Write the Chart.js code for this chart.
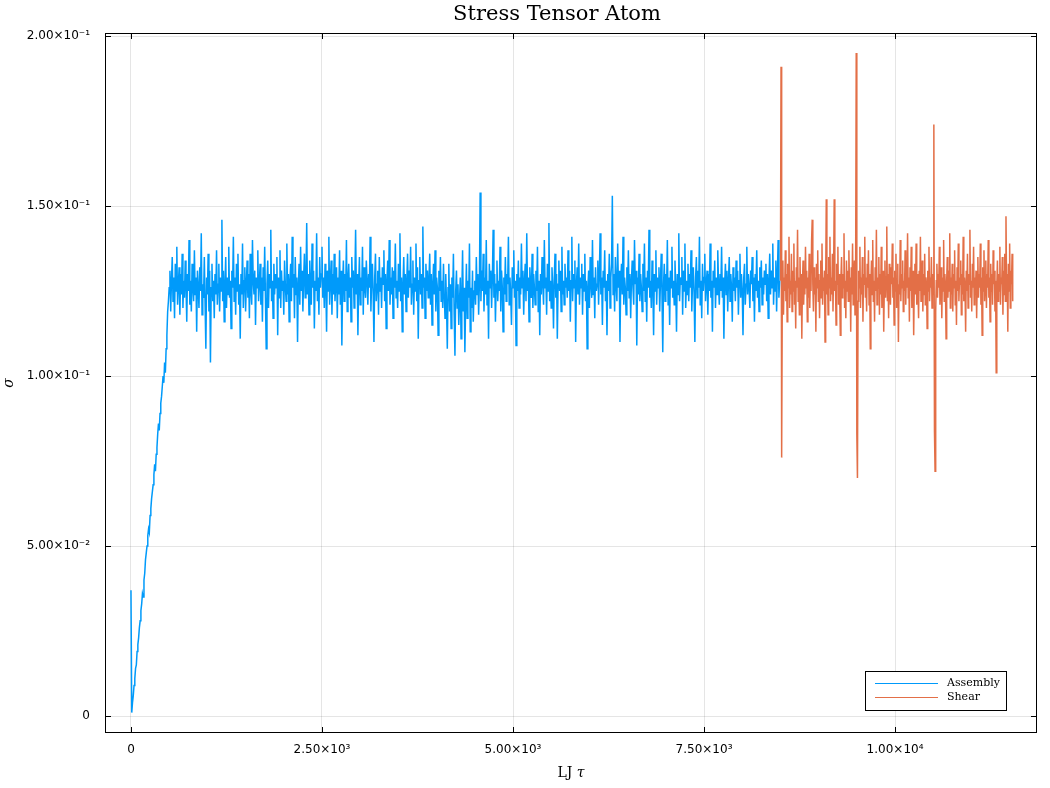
<!DOCTYPE html>
<html>
<head>
<meta charset="utf-8">
<script src="https://cdn.jsdelivr.net/npm/chart.js@4"></script>
<style>
  html, body { margin: 0; padding: 0; background: #fff; }
  #wrap { width: 1050px; height: 788px; }
</style>
</head>
<body>
<div id="wrap"><canvas id="stressChart"></canvas></div>
<script>
// sampled every 10 LJ tau, starting at 0
var assemblyStart = 0;
var assemblyStep = 10;
var assemblySigma = [
  0.037, 0.001, 0.004, 0.006, 0.009, 0.011, 0.014, 0.015, 0.019, 0.021,
  0.023, 0.026, 0.028, 0.031, 0.033, 0.036, 0.035, 0.040, 0.042, 0.046,
  0.048, 0.050, 0.053, 0.055, 0.054, 0.059, 0.061, 0.064, 0.066, 0.068,
  0.071, 0.074, 0.072, 0.077, 0.079, 0.083, 0.086, 0.084, 0.089, 0.092,
  0.094, 0.097, 0.100, 0.098, 0.104, 0.101, 0.108, 0.112, 0.119, 0.122,
  0.126, 0.131, 0.119, 0.128, 0.135, 0.122, 0.129, 0.117, 0.133, 0.125, 0.138, 0.121, 0.127, 0.132, 0.118, 0.130, 0.124, 0.136, 0.120, 0.128,
  0.123, 0.134, 0.127, 0.116, 0.130, 0.125, 0.140, 0.121, 0.128, 0.119, 0.133, 0.126, 0.122, 0.137, 0.124, 0.129, 0.113, 0.131, 0.126, 0.120,
  0.132, 0.125, 0.142, 0.118, 0.127, 0.123, 0.135, 0.121, 0.108, 0.129, 0.124, 0.136, 0.119, 0.131, 0.104, 0.126, 0.133, 0.122, 0.128, 0.117,
  0.130, 0.124, 0.137, 0.121, 0.127, 0.133, 0.119, 0.129, 0.125, 0.146, 0.122, 0.131, 0.116, 0.127, 0.135, 0.120, 0.129, 0.124, 0.138, 0.123,
  0.128, 0.114, 0.131, 0.126, 0.141, 0.122, 0.129, 0.118, 0.133, 0.125, 0.136, 0.121, 0.127, 0.111, 0.130, 0.124, 0.139, 0.120, 0.128, 0.132,
  0.119, 0.127, 0.134, 0.123, 0.130, 0.117, 0.136, 0.125, 0.121, 0.140, 0.128, 0.124, 0.131, 0.115, 0.129, 0.126, 0.137, 0.122, 0.127, 0.133,
  0.121, 0.129, 0.116, 0.132, 0.125, 0.138, 0.123, 0.108, 0.127, 0.134, 0.120, 0.130, 0.126, 0.143, 0.122, 0.128, 0.117, 0.133, 0.124, 0.130,
  0.126, 0.135, 0.112, 0.129, 0.123, 0.137, 0.120, 0.131, 0.125, 0.128, 0.118, 0.134, 0.127, 0.122, 0.139, 0.124, 0.130, 0.116, 0.128, 0.133,
  0.122, 0.141, 0.126, 0.130, 0.117, 0.135, 0.124, 0.129, 0.110, 0.127, 0.133, 0.121, 0.138, 0.125, 0.131, 0.119, 0.129, 0.136, 0.123, 0.128,
  0.145, 0.124, 0.130, 0.118, 0.134, 0.127, 0.121, 0.139, 0.126, 0.131, 0.114, 0.128, 0.125, 0.142, 0.122, 0.129, 0.118, 0.135, 0.126, 0.130,
  0.138, 0.123, 0.129, 0.120, 0.133, 0.127, 0.113, 0.131, 0.125, 0.141, 0.121, 0.128, 0.134, 0.118, 0.130, 0.124, 0.136, 0.122, 0.127, 0.132,
  0.117, 0.129, 0.124, 0.137, 0.121, 0.131, 0.109, 0.127, 0.134, 0.122, 0.130, 0.125, 0.140, 0.119, 0.128, 0.133, 0.123, 0.129, 0.116, 0.135,
  0.126, 0.131, 0.120, 0.128, 0.143, 0.124, 0.130, 0.112, 0.127, 0.135, 0.121, 0.129, 0.125, 0.138, 0.118, 0.132, 0.126, 0.123, 0.134, 0.128,
  0.121, 0.130, 0.126, 0.141, 0.119, 0.128, 0.133, 0.124, 0.110, 0.129, 0.136, 0.122, 0.127, 0.131, 0.118, 0.135, 0.125, 0.129, 0.120, 0.132,
  0.127, 0.137, 0.122, 0.130, 0.114, 0.128, 0.134, 0.125, 0.140, 0.121, 0.129, 0.124, 0.132, 0.117, 0.131, 0.126, 0.139, 0.123, 0.128, 0.120,
  0.133, 0.125, 0.142, 0.122, 0.129, 0.113, 0.127, 0.135, 0.124, 0.130, 0.119, 0.128, 0.136, 0.123, 0.131, 0.126, 0.138, 0.121, 0.127, 0.134,
  0.118, 0.129, 0.125, 0.139, 0.122, 0.132, 0.111, 0.128, 0.135, 0.124, 0.130, 0.120, 0.144, 0.126, 0.129, 0.117, 0.133, 0.125, 0.131, 0.123,
  0.128, 0.136, 0.121, 0.130, 0.115, 0.127, 0.133, 0.124, 0.137, 0.119, 0.129, 0.126, 0.112, 0.131, 0.125, 0.135, 0.122, 0.128, 0.120, 0.133,
  0.124, 0.117, 0.130, 0.121, 0.108, 0.126, 0.133, 0.119, 0.127, 0.114, 0.129, 0.123, 0.136, 0.118, 0.106, 0.125, 0.131, 0.120, 0.127, 0.115,
  0.122, 0.129, 0.111, 0.124, 0.137, 0.119, 0.126, 0.107, 0.121, 0.133, 0.117, 0.128, 0.123, 0.139, 0.113, 0.126, 0.120, 0.131, 0.116, 0.125,
  0.128, 0.121, 0.135, 0.124, 0.130, 0.118, 0.127, 0.154, 0.122, 0.131, 0.125, 0.136, 0.119, 0.129, 0.124, 0.140, 0.121, 0.128, 0.111, 0.133,
  0.126, 0.131, 0.120, 0.129, 0.143, 0.123, 0.130, 0.116, 0.127, 0.134, 0.122, 0.128, 0.125, 0.138, 0.119, 0.131, 0.126, 0.113, 0.129, 0.124,
  0.135, 0.122, 0.130, 0.127, 0.141, 0.121, 0.129, 0.124, 0.115, 0.132, 0.126, 0.137, 0.123, 0.128, 0.109, 0.130, 0.125, 0.134, 0.120, 0.129,
  0.124, 0.139, 0.126, 0.131, 0.118, 0.128, 0.133, 0.122, 0.142, 0.125, 0.129, 0.116, 0.132, 0.127, 0.123, 0.136, 0.120, 0.130, 0.126, 0.121,
  0.131, 0.125, 0.138, 0.119, 0.128, 0.112, 0.130, 0.124, 0.135, 0.127, 0.121, 0.140, 0.126, 0.129, 0.118, 0.133, 0.125, 0.145, 0.122, 0.128,
  0.120, 0.132, 0.126, 0.114, 0.129, 0.136, 0.123, 0.130, 0.111, 0.127, 0.134, 0.125, 0.131, 0.119, 0.138, 0.124, 0.128, 0.121, 0.133, 0.126,
  0.129, 0.123, 0.137, 0.125, 0.131, 0.116, 0.128, 0.141, 0.122, 0.130, 0.126, 0.134, 0.110, 0.127, 0.132, 0.124, 0.139, 0.121, 0.129, 0.126,
  0.133, 0.118, 0.130, 0.125, 0.136, 0.122, 0.128, 0.108, 0.126, 0.131, 0.120, 0.135, 0.127, 0.123, 0.140, 0.124, 0.129, 0.117, 0.132, 0.125,
  0.127, 0.134, 0.121, 0.130, 0.142, 0.124, 0.129, 0.115, 0.131, 0.126, 0.137, 0.122, 0.128, 0.112, 0.130, 0.125, 0.136, 0.120, 0.129, 0.133,
  0.153, 0.124, 0.130, 0.119, 0.135, 0.127, 0.122, 0.139, 0.126, 0.131, 0.110, 0.128, 0.133, 0.124, 0.141, 0.121, 0.129, 0.126, 0.118, 0.132,
  0.125, 0.137, 0.123, 0.130, 0.117, 0.128, 0.134, 0.126, 0.121, 0.140, 0.127, 0.131, 0.109, 0.129, 0.124, 0.136, 0.122, 0.130, 0.126, 0.119,
  0.133, 0.125, 0.139, 0.122, 0.129, 0.116, 0.131, 0.126, 0.143, 0.123, 0.128, 0.120, 0.134, 0.127, 0.112, 0.130, 0.125, 0.137, 0.121, 0.129,
  0.126, 0.132, 0.119, 0.128, 0.136, 0.124, 0.107, 0.127, 0.133, 0.122, 0.130, 0.125, 0.140, 0.121, 0.129, 0.115, 0.131, 0.126, 0.138, 0.123,
  0.128, 0.121, 0.134, 0.126, 0.113, 0.130, 0.124, 0.142, 0.122, 0.129, 0.127, 0.135, 0.118, 0.131, 0.125, 0.139, 0.120, 0.128, 0.124, 0.133,
  0.122, 0.130, 0.126, 0.137, 0.119, 0.128, 0.132, 0.124, 0.110, 0.129, 0.135, 0.123, 0.131, 0.126, 0.141, 0.121, 0.128, 0.117, 0.133, 0.125,
  0.129, 0.136, 0.122, 0.127, 0.131, 0.118, 0.130, 0.125, 0.139, 0.123, 0.128, 0.113, 0.131, 0.126, 0.134, 0.120, 0.129, 0.124, 0.137, 0.127,
  0.121, 0.130, 0.125, 0.138, 0.123, 0.129, 0.111, 0.127, 0.133, 0.124, 0.131, 0.119, 0.128, 0.135, 0.122, 0.130, 0.126, 0.116, 0.132, 0.125,
  0.129, 0.122, 0.134, 0.126, 0.131, 0.118, 0.128, 0.136, 0.123, 0.130, 0.125, 0.112, 0.129, 0.133, 0.121, 0.127, 0.138, 0.124, 0.130, 0.126,
  0.120, 0.131, 0.127, 0.135, 0.122, 0.129, 0.116, 0.130, 0.125, 0.137, 0.123, 0.128, 0.119, 0.132, 0.126, 0.134, 0.121, 0.129, 0.124, 0.131,
  0.127, 0.133, 0.122, 0.130, 0.117, 0.128, 0.136, 0.124, 0.131, 0.126, 0.139, 0.121, 0.129, 0.125, 0.134, 0.119, 0.130, 0.140, 0.123, 0.128
];

// sampled every 8 LJ tau, starting at 8500
var shearStart = 8500;
var shearStep = 8;
var shearSigma = [
  0.128, 0.191, 0.076, 0.121, 0.134, 0.118, 0.129, 0.125, 0.137, 0.122, 0.130, 0.116, 0.133, 0.126, 0.141, 0.120, 0.128, 0.124, 0.136, 0.119,
  0.131, 0.125, 0.139, 0.121, 0.128, 0.114, 0.132, 0.126, 0.143, 0.122, 0.129, 0.118, 0.135, 0.124, 0.130, 0.111, 0.127, 0.134, 0.121, 0.129,
  0.124, 0.138, 0.126, 0.131, 0.116, 0.129, 0.123, 0.136, 0.120, 0.130, 0.125, 0.140, 0.146, 0.127, 0.119, 0.132, 0.124, 0.129, 0.113, 0.133,
  0.126, 0.137, 0.122, 0.130, 0.117, 0.128, 0.134, 0.123, 0.139, 0.121, 0.129, 0.125, 0.131, 0.110, 0.127, 0.152, 0.124, 0.130, 0.118, 0.135,
  0.126, 0.141, 0.122, 0.129, 0.124, 0.136, 0.119, 0.131, 0.152, 0.125, 0.128, 0.115, 0.133, 0.127, 0.138, 0.121, 0.130, 0.124, 0.112, 0.129,
  0.135, 0.123, 0.130, 0.126, 0.142, 0.120, 0.128, 0.117, 0.134, 0.125, 0.131, 0.122, 0.137, 0.126, 0.129, 0.113, 0.132, 0.124, 0.139, 0.121,
  0.128, 0.134, 0.118, 0.127, 0.195, 0.083, 0.070, 0.122, 0.131, 0.126, 0.138, 0.120, 0.129, 0.124, 0.135, 0.116, 0.130, 0.127, 0.141, 0.123,
  0.129, 0.119, 0.133, 0.126, 0.137, 0.121, 0.130, 0.108, 0.127, 0.134, 0.124, 0.140, 0.122, 0.128, 0.116, 0.132, 0.125, 0.143, 0.121, 0.129,
  0.126, 0.135, 0.118, 0.130, 0.124, 0.138, 0.120, 0.128, 0.131, 0.113, 0.127, 0.134, 0.123, 0.129, 0.144, 0.122, 0.130, 0.117, 0.133, 0.126,
  0.121, 0.132, 0.127, 0.139, 0.123, 0.129, 0.115, 0.131, 0.125, 0.136, 0.120, 0.128, 0.133, 0.110, 0.127, 0.124, 0.140, 0.122, 0.130, 0.126,
  0.134, 0.119, 0.128, 0.125, 0.137, 0.121, 0.130, 0.126, 0.142, 0.123, 0.129, 0.116, 0.132, 0.125, 0.138, 0.120, 0.128, 0.131, 0.112, 0.127,
  0.133, 0.124, 0.139, 0.121, 0.130, 0.126, 0.117, 0.131, 0.125, 0.141, 0.122, 0.128, 0.134, 0.119, 0.130, 0.124, 0.136, 0.121, 0.129, 0.127,
  0.114, 0.131, 0.125, 0.138, 0.122, 0.129, 0.126, 0.135, 0.120, 0.130, 0.124, 0.174, 0.084, 0.072, 0.119, 0.128, 0.133, 0.123, 0.130, 0.126,
  0.138, 0.121, 0.128, 0.132, 0.117, 0.129, 0.125, 0.140, 0.122, 0.130, 0.126, 0.111, 0.128, 0.135, 0.123, 0.131, 0.125, 0.142, 0.120, 0.129,
  0.124, 0.133, 0.119, 0.130, 0.126, 0.137, 0.121, 0.128, 0.115, 0.132, 0.125, 0.139, 0.122, 0.129, 0.127, 0.134, 0.118, 0.130, 0.124, 0.141,
  0.122, 0.129, 0.126, 0.113, 0.131, 0.125, 0.136, 0.120, 0.130, 0.127, 0.143, 0.123, 0.128, 0.119, 0.133, 0.126, 0.138, 0.121, 0.129, 0.124,
  0.131, 0.117, 0.128, 0.135, 0.123, 0.130, 0.126, 0.139, 0.121, 0.129, 0.112, 0.132, 0.125, 0.137, 0.122, 0.128, 0.134, 0.120, 0.130, 0.126,
  0.140, 0.123, 0.129, 0.116, 0.133, 0.125, 0.130, 0.121, 0.137, 0.127, 0.131, 0.119, 0.128, 0.101, 0.126, 0.134, 0.122, 0.130, 0.125, 0.138,
  0.121, 0.129, 0.127, 0.135, 0.118, 0.131, 0.124, 0.136, 0.122, 0.147, 0.126, 0.130, 0.113, 0.133, 0.125, 0.139, 0.120, 0.131, 0.127, 0.136,
  0.122
];

var xTicks = [0, 2500, 5000, 7500, 10000];
var xTickLabels = ["0", "2.50×10³", "5.00×10³", "7.50×10³", "1.00×10⁴"];
var yTicks = [0, 0.05, 0.1, 0.15, 0.2];
var yTickLabels = ["0", "5.00×10⁻²", "1.00×10⁻¹", "1.50×10⁻¹", "2.00×10⁻¹"];

var titleText = "Stress Tensor Atom";
var xTitleText = "LJ ";
var xTitleSymbol = "τ";
var yTitleText = "σ";

function toPoints(start, step, values) {
  return values.map(function (v, i) {
    return { x: start + i * step, y: v };
  });
}

// box frame with inward ticks, title, axis labels and the legend box
var framePlugin = {
  id: "frame",
  afterDraw: function (chart) {
    var ctx = chart.ctx;
    var a = chart.chartArea;
    var xs = chart.scales.x;
    var ys = chart.scales.y;
    ctx.save();
    ctx.strokeStyle = "#000";
    ctx.lineWidth = 1;
    ctx.strokeRect(a.left + 0.5, a.top + 0.5, a.right - a.left - 1, a.bottom - a.top - 1);
    ctx.beginPath();
    xTicks.forEach(function (t) {
      var px = Math.round(xs.getPixelForValue(t)) + 0.5;
      ctx.moveTo(px, a.bottom);
      ctx.lineTo(px, a.bottom - 6);
      ctx.moveTo(px, a.top);
      ctx.lineTo(px, a.top + 6);
    });
    yTicks.forEach(function (t) {
      var py = Math.round(ys.getPixelForValue(t)) + 0.5;
      ctx.moveTo(a.left, py);
      ctx.lineTo(a.left + 6, py);
      ctx.moveTo(a.right, py);
      ctx.lineTo(a.right - 6, py);
    });
    ctx.stroke();

    // title
    ctx.fillStyle = "#000";
    ctx.textAlign = "center";
    ctx.textBaseline = "middle";
    ctx.font = "21px 'DejaVu Serif', serif";
    ctx.fillText(titleText, 557, 15);

    // x axis title: "LJ" upright, tau italic
    ctx.font = "14px 'DejaVu Serif', serif";
    var w1 = ctx.measureText(xTitleText).width;
    ctx.font = "italic 14px 'DejaVu Serif', serif";
    var w2 = ctx.measureText(xTitleSymbol).width;
    var cx = (a.left + a.right) / 2;
    var x0 = cx - (w1 + w2) / 2;
    ctx.textAlign = "left";
    ctx.font = "14px 'DejaVu Serif', serif";
    ctx.fillText(xTitleText, x0, 773);
    ctx.font = "italic 14px 'DejaVu Serif', serif";
    ctx.fillText(xTitleSymbol, x0 + w1, 773);

    // y axis title
    ctx.save();
    ctx.translate(9, (a.top + a.bottom) / 2);
    ctx.rotate(-Math.PI / 2);
    ctx.textAlign = "center";
    ctx.fillText(yTitleText, 0, 0);
    ctx.restore();

    // legend
    var lx = 865, ly = 671, lw = 141, lh = 39;
    ctx.fillStyle = "#fff";
    ctx.fillRect(lx, ly, lw, lh);
    ctx.strokeStyle = "#000";
    ctx.strokeRect(lx + 0.5, ly + 0.5, lw, lh);
    ctx.font = "11px 'DejaVu Serif', serif";
    ctx.textAlign = "left";
    ctx.textBaseline = "middle";
    chart.data.datasets.forEach(function (ds, i) {
      var yy = ly + 12.5 + i * 14;
      ctx.strokeStyle = ds.borderColor;
      ctx.beginPath();
      ctx.moveTo(lx + 10, yy);
      ctx.lineTo(lx + 73, yy);
      ctx.stroke();
      ctx.fillStyle = "#000";
      ctx.fillText(ds.label, lx + 82, yy);
    });
    ctx.restore();
  }
};

var canvas = document.getElementById("stressChart");
var ctx = canvas.getContext("2d");
var stressChart = new Chart(ctx, {
  type: "line",
  data: {
    datasets: [
      {
        label: "Assembly",
        data: toPoints(assemblyStart, assemblyStep, assemblySigma),
        borderColor: "rgb(0, 154, 250)",
        borderWidth: 1.5,
        pointRadius: 0,
        tension: 0
      },
      {
        label: "Shear",
        data: toPoints(shearStart, shearStep, shearSigma),
        borderColor: "rgb(227, 111, 71)",
        borderWidth: 1.5,
        pointRadius: 0,
        tension: 0
      }
    ]
  },
  options: {
    responsive: true,
    maintainAspectRatio: false,
    animation: false,
    layout: { padding: { left: 0, right: 13, top: 33, bottom: 0 } },
    plugins: {
      legend: { display: false },
      tooltip: { enabled: false },
      title: { display: false }
    },
    scales: {
      x: {
        type: "linear",
        min: -340,
        max: 11858,
        afterBuildTicks: function (scale) {
          scale.ticks = xTicks.map(function (v) { return { value: v }; });
        },
        afterFit: function (scale) { scale.height = 55; },
        ticks: {
          color: "#000",
          font: { family: "'DejaVu Sans', sans-serif", size: 12 },
          padding: 10,
          maxRotation: 0,
          callback: function (value) {
            var i = xTicks.indexOf(value);
            return i >= 0 ? xTickLabels[i] : "";
          }
        },
        grid: { color: "rgba(0,0,0,0.1)", drawTicks: false },
        border: { display: false }
      },
      y: {
        type: "linear",
        min: -0.005,
        max: 0.2009,
        afterBuildTicks: function (scale) {
          scale.ticks = yTicks.map(function (v) { return { value: v }; });
        },
        afterFit: function (scale) { scale.width = 105; },
        ticks: {
          color: "#000",
          font: { family: "'DejaVu Sans', sans-serif", size: 12 },
          padding: 15,
          callback: function (value) {
            var i = yTicks.indexOf(value);
            return i >= 0 ? yTickLabels[i] : "";
          }
        },
        grid: { color: "rgba(0,0,0,0.1)", drawTicks: false },
        border: { display: false }
      }
    }
  },
  plugins: [framePlugin]
});
</script>
</body>
</html>
